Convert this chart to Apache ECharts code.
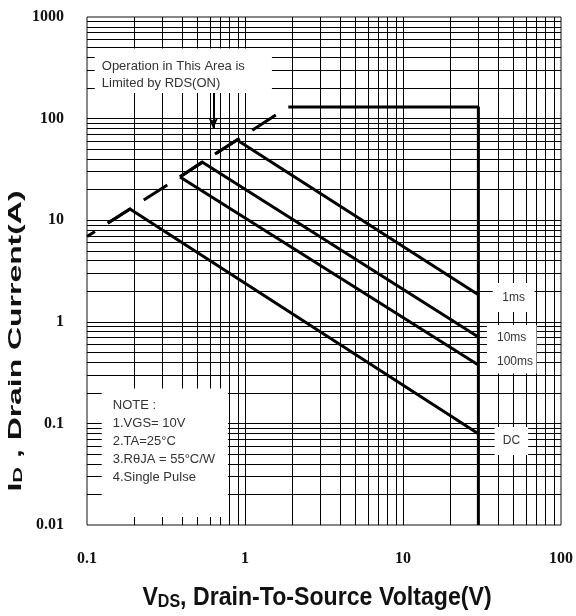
<!DOCTYPE html>
<html>
<head>
<meta charset="utf-8">
<script src="https://cdn.jsdelivr.net/npm/echarts@6/dist/echarts.min.js"></script>
<style>
html, body { margin: 0; padding: 0; background: #fff; }
#main { width: 576px; height: 616px; }
</style>
</head>
<body>
<div id="main"></div>
<script>
// tick labels
var xTickLabels = ['0.1', '1', '10', '100'];
var yTickLabels = ['0.01', '0.1', '1', '10', '100', '1000'];
// log grid: mantissas per decade
var gridMantissa = [1, 2, 3, 4, 5, 6, 7, 8, 9];
var xDecades = [0.1, 1, 10];
var yDecades = [0.01, 0.1, 1, 10, 100];

// RDS(on) limit (dashed)
var rdsV = [0.1, 1.88];
var rdsI = [6.9, 130];
// max current / max voltage boundary
var limitV = [1.88, 30, 30];
var limitI = [130, 130, 0.01];
// pulse curves
var v1ms = [0.645, 0.89, 30];
var i1ms = [44.9, 61.5, 1.85];
var v10ms = [0.388, 0.535, 30];
var i10ms = [26.6, 37.4, 0.71];
var v100ms = [0.388, 30];
var i100ms = [26.6, 0.376];
var vDC = [0.136, 0.187, 30];
var iDC = [9.4, 12.9, 0.079];

var zip = function(xs, ys) {
	var out = [];
	for (var i = 0; i < xs.length; i++) {
		out.push([xs[i], ys[i]]);
	}
	return out;
};

var gridValues = function(decades) {
	var out = [];
	for (var d = 0; d < decades.length; d++) {
		for (var m = 0; m < gridMantissa.length; m++) {
			if (d == 0 && m == 0) continue; // the border
			out.push(+(decades[d] * gridMantissa[m]).toPrecision(3));
		}
	}
	return out;
};

var gridLines = [];
gridValues(xDecades).forEach(function(v) { gridLines.push({ xAxis: v }); });
gridValues(yDecades).forEach(function(v) { gridLines.push({ yAxis: v }); });

var noteFont = 'Liberation Sans, Arial, sans-serif';

var curve = function(name, data, dashed) {
	return {
		name: name,
		type: 'line',
		z: 3,
		data: data,
		symbol: 'none',
		animation: false,
		silent: true,
		lineStyle: dashed ? { color: '#000', width: 3, type: [28, 15], dashOffset: 18.5 }
			: { color: '#000', width: 3 }
	};
};

var boxLabel = function(text, pos, lh, size) {
	return { show: true, position: pos, lineHeight: lh, formatter: text,
		fontFamily: noteFont, fontSize: size || 13, color: '#333' };
};

var myChart = echarts.init(document.getElementById('main'));
var option = {
	animation: false,
	grid: {
		left: 87, right: 15, top: 17, bottom: 91,
		show: true, borderColor: '#111', borderWidth: 1, backgroundColor: '#fff'
	},
	xAxis: {
		type: 'log', logBase: 10, min: 0.1, max: 100,
		axisLine: { show: false },
		axisTick: { show: false },
		splitLine: { show: false },
		axisLabel: {
			margin: 26,
			fontFamily: 'Liberation Serif, Times New Roman, serif',
			fontWeight: 'bold', fontSize: 16, color: '#111',
			formatter: function(v) {
				return xTickLabels[Math.round(Math.log10(v)) + 1];
			}
		}
	},
	yAxis: {
		type: 'log', logBase: 10, min: 0.01, max: 1000,
		axisLine: { show: false },
		axisTick: { show: false },
		splitLine: { show: false },
		axisLabel: {
			margin: 23,
			fontFamily: 'Liberation Serif, Times New Roman, serif',
			fontWeight: 'bold', fontSize: 16, color: '#111',
			formatter: function(v) {
				return yTickLabels[Math.round(Math.log10(v)) + 2];
			}
		}
	},
	graphic: [{
		type: 'text', x: 317, y: 598, scaleX: 0.89,
		style: {
			text: '{b|V}{s|DS}{b|, Drain-To-Source Voltage(V)}',
			align: 'center', verticalAlign: 'middle',
			rich: {
				b: { fontFamily: 'Liberation Sans, Arial', fontWeight: 'bold', fontSize: 26, fill: '#111', verticalAlign: 'bottom' },
				s: { fontFamily: 'Liberation Sans, Arial', fontWeight: 'bold', fontSize: 18, fill: '#111', verticalAlign: 'bottom' }
			}
		}
	}, {
		type: 'text', x: 16, y: 341, rotation: Math.PI / 2, scaleX: 1.45, scaleY: 0.82,
		style: {
			text: '{b|I}{s|D}{b| , Drain Current(A)}',
			align: 'center', verticalAlign: 'middle',
			rich: {
				b: { fontFamily: 'Liberation Sans, Arial', fontWeight: 'bold', fontSize: 22, fill: '#111', verticalAlign: 'bottom' },
				s: { fontFamily: 'Liberation Sans, Arial', fontWeight: 'bold', fontSize: 15, fill: '#111', verticalAlign: 'bottom' }
			}
		}
	}],
	series: [{
		// log grid lines
		type: 'line',
		data: [],
		silent: true,
		markLine: {
			z: 1,
			silent: true,
			animation: false,
			symbol: 'none',
			label: { show: false },
			lineStyle: { color: '#000', width: 1, type: 'solid', opacity: 1 },
			data: gridLines
		},
		markArea: {
			z: 2,
			silent: true,
			animation: false,
			itemStyle: { color: '#fff', opacity: 1 },
			data: [
				[{ coord: [0.112, 490], label: boxLabel('Operation in This Area is\nLimited by RDS(ON)', [7, 9], 17) },
				 { coord: [1.48, 179] }],
				[{ coord: [0.124, 0.22], label: boxLabel('NOTE :\n1.VGS= 10V\n2.TA=25°C\n3.RθJA = 55°C/W\n4.Single Pulse', [11, 8], 18) },
				 { coord: [0.78, 0.012] }],
				[{ coord: [37, 2.41], label: boxLabel('1ms', 'inside', 16, 12) },
				 { coord: [68, 1.25] }],
				[{ coord: [34, 0.93], label: boxLabel('10ms\n100ms', [10, 1], 24, 12) },
				 { coord: [70, 0.31] }],
				[{ coord: [38, 0.092], label: boxLabel('DC', 'inside', 16, 12) },
				 { coord: [62, 0.049] }]
			]
		}
	},
	curve('RDS(ON)', zip(rdsV, rdsI), true),
	curve('limit', zip(limitV, limitI), false),
	curve('1ms', zip(v1ms, i1ms), false),
	curve('10ms', zip(v10ms, i10ms), false),
	curve('100ms', zip(v100ms, i100ms), false),
	curve('DC', zip(vDC, iDC), false),
	{
		// arrow pointing at the RDS(ON) line
		type: 'line',
		data: [],
		silent: true,
		markLine: {
			z: 3,
			silent: true,
			animation: false,
			symbol: ['none', 'arrow'],
			symbolSize: [7, 11],
			label: { show: false },
			lineStyle: { color: '#000', width: 2, type: 'solid' },
			data: [[{ coord: [0.63, 179] }, { coord: [0.63, 79] }]]
		}
	}]
};
myChart.setOption(option);
</script>
</body>
</html>
